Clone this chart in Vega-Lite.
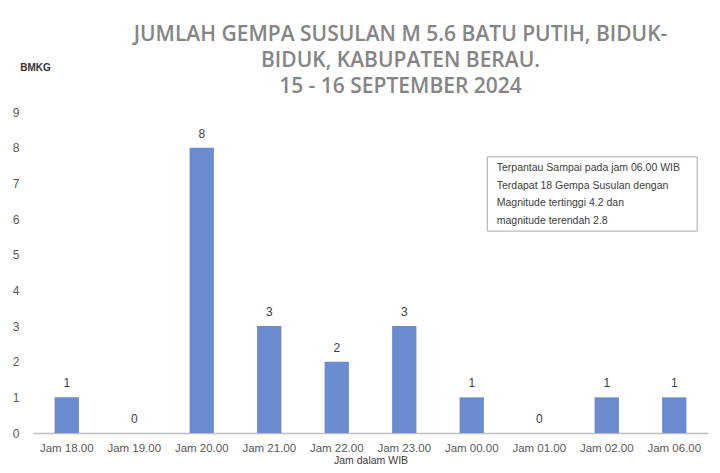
{
  "$schema": "https://vega.github.io/schema/vega-lite/v6.json",
  "width": 675,
  "height": 321,
  "autosize": {"type": "none"},
  "padding": {"left": 33, "top": 112, "right": 12, "bottom": 40},
  "background": "white",
  "title": {
    "text": ["JUMLAH GEMPA SUSULAN M 5.6 BATU PUTIH, BIDUK-", "BIDUK, KABUPATEN BERAU.", "15 - 16 SEPTEMBER 2024"],
    "anchor": "middle",
    "dx": 30,
    "dy": 53,
    "offset": 18,
    "font": "Open Sans",
    "fontSize": 21,
    "fontWeight": 600,
    "color": "#858585",
    "lineHeight": 26,
    "limit": 0
  },
  "config": {
    "view": {"stroke": null},
    "font": "Liberation Sans",
    "axisY": {"tickCount": 10, "labelOverlap": false}
  },
  "layer": [
    {
      "data": {
        "values": [
          {"jam": "Jam 18.00", "jumlah": 1},
          {"jam": "Jam 19.00", "jumlah": 0},
          {"jam": "Jam 20.00", "jumlah": 8},
          {"jam": "Jam 21.00", "jumlah": 3},
          {"jam": "Jam 22.00", "jumlah": 2},
          {"jam": "Jam 23.00", "jumlah": 3},
          {"jam": "Jam 00.00", "jumlah": 1},
          {"jam": "Jam 01.00", "jumlah": 0},
          {"jam": "Jam 02.00", "jumlah": 1},
          {"jam": "Jam 06.00", "jumlah": 1}
        ]
      },
      "encoding": {
        "x": {
          "field": "jam",
          "type": "nominal",
          "sort": null,
          "scale": {"paddingInner": 0.64, "paddingOuter": 0.32},
          "axis": {
            "title": "Jam dalam WIB",
            "titleFont": "Liberation Sans",
            "titleFontSize": 10.5,
            "titleFontWeight": "normal",
            "titleColor": "#404040",
            "titlePadding": 2,
            "labelAngle": 0,
            "labelFont": "Liberation Sans",
            "labelFontSize": 11.5,
            "labelColor": "#595959",
            "labelPadding": 9,
            "ticks": false,
            "domainColor": "#bfbfbf",
            "domainWidth": 1.5
          }
        },
        "y": {
          "field": "jumlah",
          "type": "quantitative",
          "scale": {"domain": [0, 9], "nice": false},
          "axis": {
            "title": "BMKG",
            "titleAngle": 0,
            "titleX": 2,
            "titleY": -40,
            "titleAlign": "center",
            "titleFont": "Liberation Sans",
            "titleFontSize": 10,
            "titleFontWeight": "bold",
            "titleColor": "#333333",
            "values": [0, 1, 2, 3, 4, 5, 6, 7, 8, 9],
            "labelOverlap": false,
            "domain": false,
            "ticks": false,
            "grid": false,
            "labelFont": "Liberation Sans",
            "labelFontSize": 12,
            "labelColor": "#595959",
            "labelPadding": 14
          }
        }
      },
      "layer": [
        {
          "mark": {"type": "bar", "color": "#6b8bd1"}
        },
        {
          "mark": {"type": "text", "dy": -14, "fontSize": 12, "color": "#404040", "font": "Liberation Sans"},
          "encoding": {"text": {"field": "jumlah", "type": "quantitative"}}
        }
      ]
    },
    {
      "data": {"values": [{"x1": 6.73, "x2": 9.84, "y1": 5.66, "y2": 7.74, "tx": 6.87, "ty": 7.56, "note": "Terpantau Sampai pada jam 06.00 WIB\nTerdapat 18 Gempa Susulan  dengan\nMagnitude tertinggi 4.2 dan\nmagnitude terendah 2.8"}]},
      "layer": [
        {
          "mark": {"type": "rect", "fill": "white", "stroke": "#a6a6a6", "strokeWidth": 1},
          "encoding": {
            "x": {"field": "x1", "type": "quantitative", "scale": {"domain": [0, 10], "nice": false, "zero": true}, "axis": null},
            "x2": {"field": "x2"},
            "y": {"field": "y1", "type": "quantitative", "axis": {"values": [0, 1, 2, 3, 4, 5, 6, 7, 8, 9], "labelOverlap": false}},
            "y2": {"field": "y2"}
          }
        },
        {
          "mark": {"type": "text", "align": "left", "baseline": "top", "lineBreak": "\n", "lineHeight": 17.5, "fontSize": 10.5, "color": "#404040", "font": "Liberation Sans"},
          "encoding": {
            "x": {"field": "tx", "type": "quantitative", "scale": {"domain": [0, 10], "nice": false, "zero": true}, "axis": null},
            "y": {"field": "ty", "type": "quantitative", "axis": {"values": [0, 1, 2, 3, 4, 5, 6, 7, 8, 9], "labelOverlap": false}},
            "text": {"field": "note"}
          }
        }
      ]
    }
  ],
  "resolve": {"scale": {"x": "independent"}, "axis": {"x": "independent"}}
}
